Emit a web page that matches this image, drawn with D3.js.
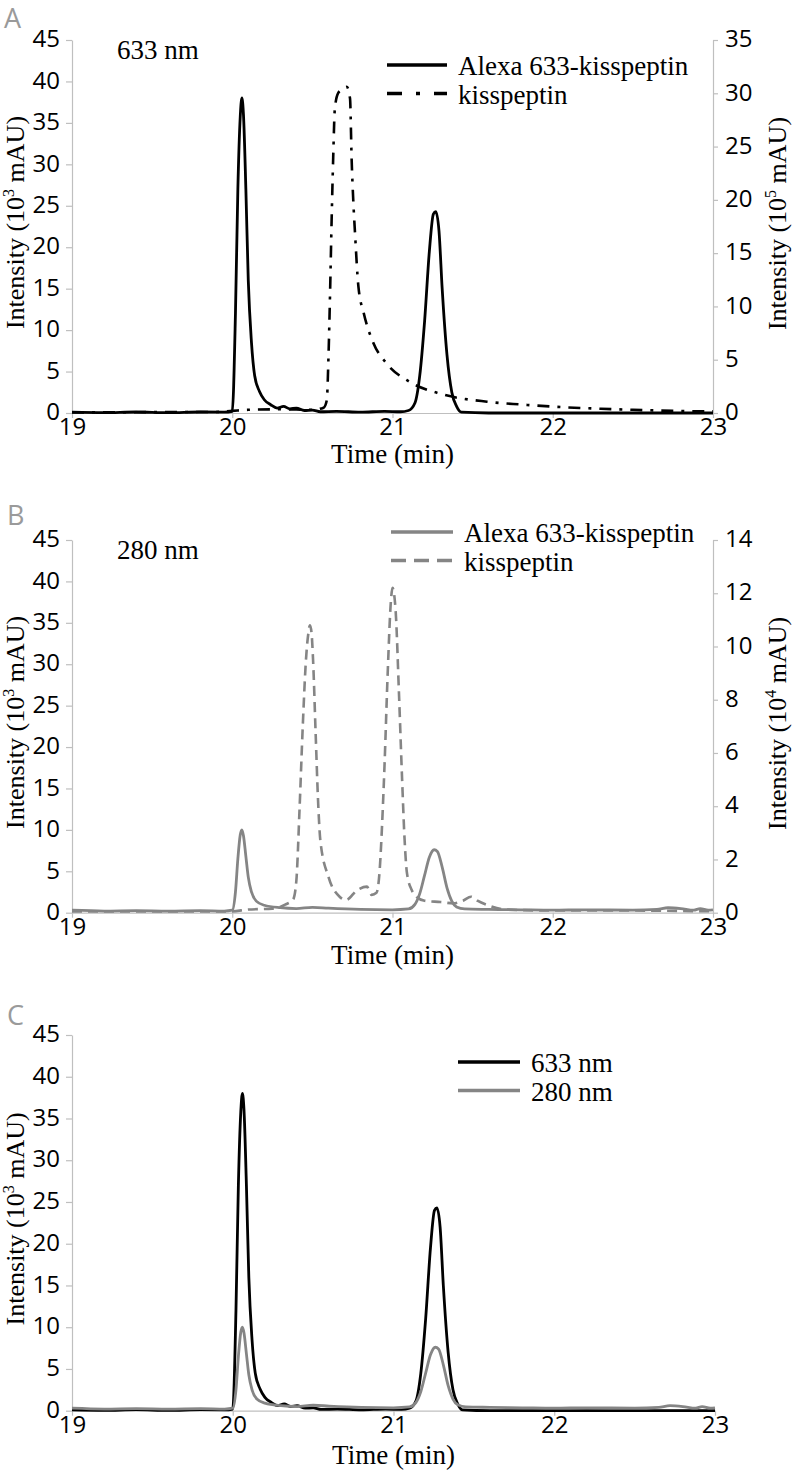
<!DOCTYPE html>
<html><head><meta charset="utf-8">
<script src="https://cdn.jsdelivr.net/npm/d3@7"></script>
<style>body{margin:0;background:#fff}</style>
</head><body>
<svg id="chart" width="795" height="1471"></svg>
<script>
// ---------- DATA ----------
const xTicks = [19, 20, 21, 22, 23];
const leftTicks = [0, 5, 10, 15, 20, 25, 30, 35, 40, 45];
const rightTicksA = [0, 5, 10, 15, 20, 25, 30, 35];
const rightTicksB = [0, 2, 4, 6, 8, 10, 12, 14];

// Alexa 633-kisspeptin, 633 nm (10^3 mAU)
const alexa633 = [[19,0.1],[19.2,0.05],[19.4,0.12],[19.6,0.05],[19.8,0.12],[19.95,0.1],[20.0,0.2],[20.02,12],[20.035,27],[20.05,35.8],[20.06,38],[20.07,36],[20.085,27],[20.1,16],[20.12,8.5],[20.14,4.5],[20.17,2.6],[20.2,1.6],[20.24,1.0],[20.28,0.6],[20.32,0.8],[20.36,0.5],[20.4,0.6],[20.45,0.3],[20.5,0.35],[20.55,0.15],[20.65,0.2],[20.8,0.1],[20.95,0.2],[21.05,0.15],[21.1,0.3],[21.14,1.2],[21.17,4.5],[21.2,11],[21.23,19.5],[21.255,24],[21.27,24.3],[21.29,22],[21.31,15],[21.34,7],[21.37,2.5],[21.4,0.8],[21.43,0.1],[21.6,0],[22,0],[22.5,0],[23,0]];
// kisspeptin, 633 nm (10^5 mAU, right axis)
const kiss633 = [[19,0.05],[19.5,0.08],[19.9,0.1],[20.0,0.2],[20.1,0.3],[20.3,0.35],[20.5,0.3],[20.57,0.5],[20.59,1.2],[20.60,5],[20.61,11],[20.62,18],[20.63,24],[20.64,28.5],[20.66,30],[20.69,30.4],[20.715,30.6],[20.735,29.5],[20.745,23.8],[20.755,20],[20.766,16.9],[20.787,11.9],[20.82,9.4],[20.88,6.6],[20.96,4.7],[21.11,2.9],[21.3,1.8],[21.59,1.06],[21.8,0.8],[22.06,0.55],[22.3,0.4],[22.5,0.3],[22.75,0.2],[23,0.15]];
// Alexa 633-kisspeptin, 280 nm (10^3 mAU)
const alexa280 = [[19,0.3],[19.2,0.2],[19.4,0.25],[19.6,0.2],[19.8,0.25],[19.95,0.2],[20.0,0.3],[20.02,2.5],[20.035,6.5],[20.05,9.4],[20.06,10],[20.07,9.3],[20.085,6.8],[20.1,4.3],[20.12,2.5],[20.15,1.4],[20.2,0.9],[20.3,0.6],[20.4,0.5],[20.5,0.65],[20.6,0.55],[20.8,0.4],[21.0,0.35],[21.1,0.45],[21.14,1.0],[21.17,2.3],[21.2,4.5],[21.23,6.7],[21.26,7.6],[21.28,7.4],[21.31,5.5],[21.34,3],[21.37,1.4],[21.4,0.7],[21.45,0.45],[21.6,0.4],[21.8,0.35],[22,0.3],[22.2,0.35],[22.5,0.3],[22.65,0.4],[22.72,0.6],[22.8,0.5],[22.88,0.3],[22.92,0.5],[22.97,0.3],[23,0.35]];
// kisspeptin, 280 nm (10^4 mAU, right axis)
const kiss280 = [[19,0.05],[19.5,0.05],[20.0,0.05],[20.1,0.12],[20.25,0.15],[20.33,0.3],[20.38,0.5],[20.4,1.2],[20.42,3.9],[20.44,7],[20.46,9.5],[20.475,10.5],[20.485,10.8],[20.495,10.5],[20.505,9.4],[20.52,6.8],[20.537,4],[20.55,2.7],[20.6,1.35],[20.67,0.6],[20.71,0.48],[20.78,0.85],[20.84,0.98],[20.87,0.67],[20.9,0.75],[20.92,1.6],[20.935,3.3],[20.95,5.5],[20.97,9],[20.99,11.7],[21.0,12.2],[21.02,11.3],[21.04,8.3],[21.06,5],[21.075,2.8],[21.09,1.5],[21.12,0.85],[21.15,0.6],[21.2,0.45],[21.3,0.4],[21.38,0.35],[21.44,0.45],[21.49,0.6],[21.53,0.45],[21.59,0.29],[21.7,0.12],[22,0.08],[22.5,0.08],[23,0.05]];

const legendA = ["Alexa 633-kisspeptin", "kisspeptin"];
const legendB = ["Alexa 633-kisspeptin", "kisspeptin"];
const legendC = ["633 nm", "280 nm"];

// ---------- DRAW ----------
const svg = d3.select("#chart");
const SERIF = "'Liberation Serif','Times New Roman',serif";
const SANS = "'Open Sans','Noto Sans',sans-serif";
const AX = "#bfbfbf";
const GRAY = "#858585";

function styleAxis(g) {
  g.select(".domain").attr("stroke", AX).attr("stroke-width", 1.2);
  g.selectAll(".tick line").attr("stroke", AX).attr("stroke-width", 1.2);
  g.selectAll(".tick text").attr("fill", "#000").style("font-family", SANS).style("font-size", "24px");
}

function yLabel(x, y, exp) {
  const t = svg.append("text")
    .attr("transform", `translate(${x},${y}) rotate(-90)`)
    .attr("text-anchor", "middle")
    .style("font-family", SERIF).style("font-size", "26px").attr("fill", "#000");
  t.append("tspan").text("Intensity (10");
  t.append("tspan").attr("dy", -10).style("font-size", "16px").text(exp);
  t.append("tspan").attr("dy", 10).text(" mAU)");
}

function panel(p) {
  const x = d3.scaleLinear().domain([19, 23]).range([p.x0, p.x1]);
  const yL = d3.scaleLinear().domain([0, 45]).range([p.yb, p.yt]);
  const yR = p.rightMax ? d3.scaleLinear().domain([0, p.rightMax]).range([p.yb, p.yt]) : null;

  // panel letter
  svg.append("text").attr("x", p.letterX).attr("y", p.letterY).text(p.letter)
    .style("font-family", SANS).style("font-size", "27px").attr("fill", "#9a9a9a");

  // axes
  const gx = svg.append("g").attr("transform", `translate(0,${p.yb})`)
    .call(d3.axisBottom(x).tickValues(xTicks).tickFormat(d3.format("d")).tickSizeInner(5).tickSizeOuter(0).tickPadding(0));
  styleAxis(gx);
  const gl = svg.append("g").attr("transform", `translate(${p.x0},0)`)
    .call(d3.axisLeft(yL).tickValues(leftTicks).tickSizeInner(6).tickSizeOuter(0).tickPadding(6));
  styleAxis(gl);
  gl.selectAll(".tick text").attr("dy", "0.28em");
  if (yR) {
    const gr = svg.append("g").attr("transform", `translate(${p.x1},0)`)
      .call(d3.axisRight(yR).tickValues(p.rightTicks).tickSizeInner(5).tickSizeOuter(0).tickPadding(7));
    styleAxis(gr);
    gr.selectAll(".tick text").attr("dy", "0.28em");
  }

  // lines
  p.series.forEach(s => {
    const ys = s.axis === "R" ? yR : yL;
    const line = d3.line().x(d => x(d[0])).y(d => ys(d[1])).curve(d3.curveMonotoneX);
    svg.append("path").datum(s.data).attr("d", line)
      .attr("fill", "none").attr("stroke", s.color).attr("stroke-width", s.width)
      .attr("stroke-dasharray", s.dash || null).attr("stroke-linejoin", "round");
  });

  // labels
  yLabel(24, (p.yt + p.yb) / 2 - 4, "3");
  if (yR) yLabel(786, (p.yt + p.yb) / 2 - 3, p.rightExp);
  svg.append("text").attr("x", (p.x0 + p.x1) / 2).attr("y", p.yb + p.timeDy).attr("text-anchor", "middle")
    .style("font-family", SERIF).style("font-size", "27px").text("Time (min)");
  if (p.wl) {
    svg.append("text").attr("x", 117).attr("y", p.yt + 19).text(p.wl)
      .style("font-family", SERIF).style("font-size", "27px");
  }

  // legend
  p.legend.forEach((lab, i) => {
    const s = p.series[i];
    const ly = p.legY + i * 28.5;
    svg.append("line").attr("x1", p.legX0).attr("x2", p.legX1).attr("y1", ly).attr("y2", ly)
      .attr("stroke", s.color).attr("stroke-width", 3.6).attr("stroke-dasharray", s.legDash || null);
    svg.append("text").attr("x", p.legX1 + 11).attr("y", ly + 10).text(lab)
      .style("font-family", SERIF).style("font-size", "27px").attr("fill", "#000");
  });
}

panel({
  letter: "A", letterX: 4, letterY: 28, timeDy: 50,
  x0: 72, x1: 713, yt: 40, yb: 413, rightMax: 35, rightTicks: rightTicksA, rightExp: "5",
  wl: "633 nm",
  series: [
    {data: alexa633, axis: "L", color: "#000", width: 2.8},
    {data: kiss633, axis: "R", color: "#000", width: 2.6, dash: "12,8,3,8", legDash: "15,14,4,14"}
  ],
  legend: legendA, legX0: 387, legX1: 447, legY: 65
});

panel({
  letter: "B", letterX: 7, letterY: 525, timeDy: 51,
  x0: 72, x1: 713, yt: 540, yb: 912.7, rightMax: 14, rightTicks: rightTicksB, rightExp: "4",
  wl: "280 nm",
  series: [
    {data: alexa280, axis: "L", color: GRAY, width: 2.8},
    {data: kiss280, axis: "R", color: GRAY, width: 2.6, dash: "10,6", legDash: "15,8"}
  ],
  legend: legendB, legX0: 391, legX1: 453, legY: 532
});

panel({
  letter: "C", letterX: 7, letterY: 1025, timeDy: 53,
  x0: 72, x1: 715, yt: 1035, yb: 1410.7, rightMax: null,
  wl: null,
  series: [
    {data: alexa633, axis: "L", color: "#000", width: 2.8},
    {data: alexa280, axis: "L", color: GRAY, width: 2.8}
  ],
  legend: legendC, legX0: 458, legX1: 520, legY: 1062
});
</script>
</body></html>
